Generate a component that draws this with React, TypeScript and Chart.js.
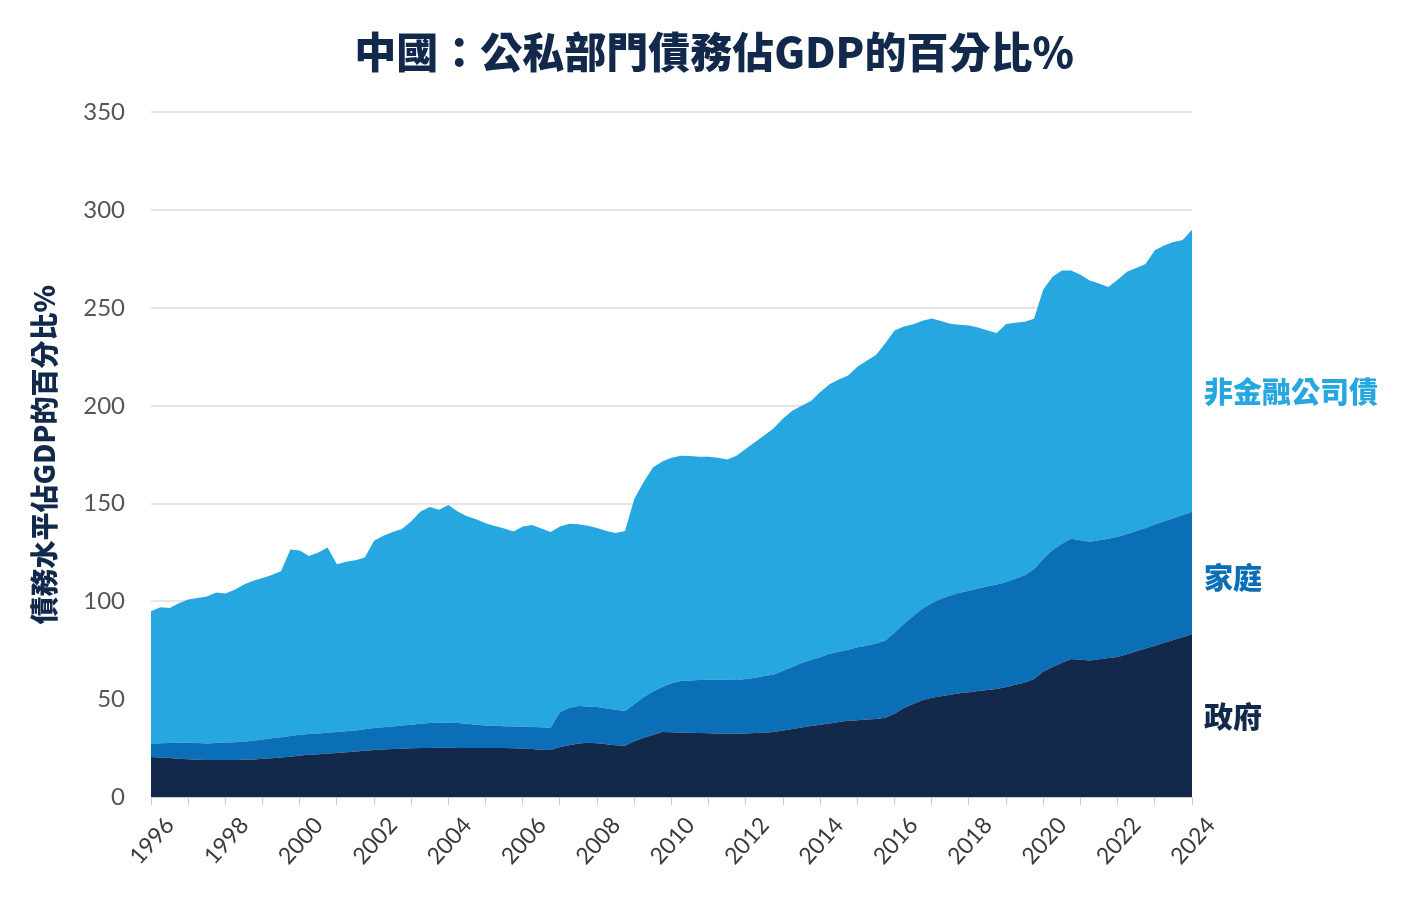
import { useEffect, useRef } from 'react';
import { Chart, registerables } from 'chart.js';

Chart.register(...registerables);

const TITLE = '中國：公私部門債務佔GDP的百分比%';
const Y_TITLE = '債務水平佔GDP的百分比%';
const SERIES_NAMES = ['政府', '家庭', '非金融公司債'];
const SERIES_COLORS = ['#13294b', '#0a6fb6', '#27a7e0'];
const LABEL_COLORS = ['#13294b', '#0a6fb6', '#27a7e0'];
const LABEL_ANCHORS = [41, 112, 207];

const YEARS = [
  1996, 1997, 1998, 1999, 2000, 2001, 2002, 2003, 2004, 2005, 2006, 2007, 2008, 2009,
  2010, 2011, 2012, 2013, 2014, 2015, 2016, 2017, 2018, 2019, 2020, 2021, 2022, 2023, 2024,
];
const QUARTERS: string[] = [];
YEARS.forEach((y, i) => {
  const n = i === YEARS.length - 1 ? 1 : 4;
  for (let q = 1; q <= n; q++) QUARTERS.push(`${y}Q${q}`);
});

const GOVERNMENT = [
  20.4, 20.2, 20.0, 19.6, 19.3, 19.1, 18.9, 18.9, 18.9, 18.9, 19.0, 19.2,
  19.5, 19.8, 20.2, 20.6, 21.2, 21.6, 21.9, 22.2, 22.5, 22.9, 23.2, 23.6,
  24.0, 24.3, 24.5, 24.7, 24.9, 25.0, 25.1, 25.2, 25.2, 25.1, 25.0, 25.0,
  25.0, 25.0, 25.0, 24.9, 24.8, 24.5, 24.2, 24.0, 25.5, 26.4, 27.3, 27.7,
  27.5, 27.0, 26.4, 26.2, 28.5, 30.3, 31.7, 33.2, 33.1, 33.0, 32.9, 32.7,
  32.6, 32.5, 32.4, 32.3, 32.5, 32.7, 32.9, 33.2, 34.0, 34.8, 35.5, 36.3,
  37.0, 37.6, 38.3, 39.0, 39.3, 39.6, 39.9, 40.5, 42.5, 45.5, 47.5, 49.5,
  50.7, 51.5, 52.3, 53.0, 53.5, 54.2, 54.7, 55.2, 56.3, 57.4, 58.6, 60.3,
  64.2, 66.5, 68.6, 70.6, 70.2, 69.8, 70.4, 71.0, 71.6, 73.0, 74.5, 75.9,
  77.3, 78.8, 80.3, 81.7, 83.3,
];

const HOUSEHOLD = [
  7.0, 7.3, 7.6, 8.1, 8.5, 8.5, 8.5, 8.7, 8.9, 9.1, 9.3, 9.6,
  9.9, 10.2, 10.4, 10.6, 10.6, 10.6, 10.6, 10.6, 10.7, 10.7, 10.8, 11.0,
  11.3, 11.4, 11.6, 11.9, 12.1, 12.4, 12.7, 12.8, 12.7, 12.7, 12.4, 12.0,
  11.6, 11.4, 11.2, 11.1, 11.2, 11.3, 11.4, 11.4, 18.0, 19.1, 19.2, 18.6,
  18.5, 18.3, 18.2, 17.8, 19.0, 20.7, 22.3, 23.1, 25.1, 26.3, 26.7, 27.1,
  27.4, 27.5, 27.5, 27.5, 27.8, 28.3, 28.9, 29.4, 30.5, 31.7, 33.0, 33.7,
  34.5, 35.6, 36.0, 36.3, 37.2, 37.7, 38.6, 39.5, 41.5, 43.0, 45.0, 46.8,
  48.5, 49.8, 50.7, 51.4, 52.0, 52.4, 53.0, 53.4, 53.6, 54.2, 54.8, 56.2,
  57.6, 59.8, 60.9, 61.4, 61.0, 60.7, 60.9, 61.0, 61.4, 61.5, 61.5, 61.6,
  62.0, 62.2, 62.2, 62.5, 62.5,
];

const CORPORATE = [
  67.6, 69.5, 69.0, 71.3, 73.2, 74.1, 75.1, 76.9, 76.2, 78.0, 80.4, 81.7,
  82.6, 83.5, 84.9, 95.3, 94.2, 91.0, 92.5, 94.7, 85.8, 86.7, 87.0, 87.9,
  95.7, 97.8, 99.4, 100.4, 104.0, 108.6, 110.4, 108.8, 111.4, 108.2, 106.1, 105.0,
  103.4, 102.1, 101.1, 99.8, 102.3, 103.2, 101.7, 100.1, 94.8, 94.2, 93.0, 92.4,
  91.5, 90.7, 90.4, 92.0, 105.0, 110.0, 114.5, 115.2, 115.3, 115.2, 114.7, 114.2,
  114.0, 113.5, 112.6, 114.7, 117.7, 120.5, 123.2, 125.9, 129.0, 131.0, 131.5, 132.5,
  135.5, 137.8, 139.2, 140.2, 143.5, 145.7, 147.5, 152.0, 154.5, 152.0, 149.2, 147.2,
  145.4, 142.0, 139.0, 137.1, 135.5, 133.4, 130.8, 128.6, 131.9, 130.9, 129.6, 128.0,
  137.7, 139.7, 139.7, 137.2, 135.8, 133.5, 131.2, 128.7, 131.5, 134.0, 134.5, 135.0,
  140.2, 141.0, 141.2, 140.6, 144.2,
];

const Y_MIN = 0;
const Y_MAX = 350;
const Y_STEP = 50;

const CJK = "'Noto Sans CJK TC', 'Noto Sans CJK SC', sans-serif";
const LATIN = "Lato, 'Open Sans', sans-serif";

const endLabels = {
  id: 'endLabels',
  afterDatasetsDraw(chart: any) {
    const { ctx, chartArea, scales } = chart;
    ctx.save();
    ctx.font = `900 29px ${CJK}`;
    ctx.textAlign = 'left';
    ctx.textBaseline = 'middle';
    SERIES_NAMES.forEach((name, i) => {
      ctx.fillStyle = LABEL_COLORS[i];
      ctx.fillText(name, chartArea.right + 12, scales.y.getPixelForValue(LABEL_ANCHORS[i]));
    });
    ctx.restore();
  },
};

export default function App() {
  const ref = useRef<HTMLCanvasElement>(null);
  useEffect(() => {
    document.body.style.margin = '0';
    const seriesData = [GOVERNMENT, HOUSEHOLD, CORPORATE];
    const chart = new Chart(ref.current as HTMLCanvasElement, {
      type: 'line',
      data: {
        labels: QUARTERS,
        datasets: seriesData.map((d, i) => ({
          label: SERIES_NAMES[i],
          data: d,
          backgroundColor: SERIES_COLORS[i],
          borderColor: SERIES_COLORS[i],
          borderWidth: 0,
          pointRadius: 0,
          tension: 0,
          fill: i === 0 ? 'origin' : '-1',
        })),
      },
      options: {
        responsive: true,
        maintainAspectRatio: false,
        animation: false,
        layout: { padding: { left: 0, right: 0, top: 0, bottom: 0 } },
        plugins: {
          legend: { display: false },
          tooltip: { enabled: false },
          title: {
            display: true,
            text: TITLE,
            color: '#13294b',
            font: { family: CJK, size: 42, weight: '900' },
            padding: { top: 27, bottom: 35 },
          },
        },
        scales: {
          x: {
            type: 'category',
            offset: false,
            grid: {
              drawOnChartArea: false,
              drawTicks: true,
              tickLength: 8,
              color: (c: any) => (c.index % 4 === 0 ? '#c9ccd8' : 'rgba(0,0,0,0)'),
            },
            border: { display: true, color: '#c9ccd8', width: 1 },
            ticks: {
              autoSkip: false,
              minRotation: 48,
              maxRotation: 48,
              labelOffset: 19,
              padding: 7,
              color: '#3a3a3a',
              font: { family: LATIN, size: 23 },
              callback: (_v: any, i: number) => (i % 8 === 0 ? QUARTERS[i].slice(0, 4) : ''),
            },
            afterFit: (s: any) => {
              s.height = 115;
            },
          },
          y: {
            stacked: true,
            min: Y_MIN,
            max: Y_MAX,
            ticks: {
              stepSize: Y_STEP,
              padding: 26,
              color: '#555555',
              font: { family: LATIN, size: 24 },
            },
            grid: { drawTicks: false, color: '#e6e6e6', lineWidth: 2 },
            border: { display: false },
            title: {
              display: true,
              text: Y_TITLE,
              color: '#13294b',
              font: { family: CJK, size: 28, weight: '900' },
              padding: { top: 28, bottom: 4 },
            },
            afterFit: (s: any) => {
              s.width = 151;
            },
          },
          yRight: {
            position: 'right',
            display: true,
            grid: { display: false },
            ticks: { display: false },
            border: { display: false },
            afterFit: (s: any) => {
              s.width = 236;
            },
          },
        },
      },
      plugins: [endLabels],
    });
    return () => chart.destroy();
  }, []);
  return (
    <div style={{ position: 'relative', width: 1428, height: 912 }}>
      <canvas ref={ref} />
    </div>
  );
}
